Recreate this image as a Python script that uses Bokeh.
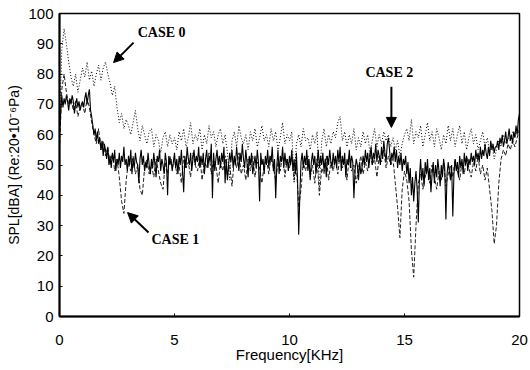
import numpy as np
from bokeh.plotting import figure
from bokeh.models import Range1d, Label, Arrow, NormalHead, FixedTicker
from bokeh.embed import file_html
from bokeh.resources import INLINE

# ---- data ----
x_ticks = [0, 5, 10, 15, 20]
y_ticks = [0, 10, 20, 30, 40, 50, 60, 70, 80, 90, 100]

# CASE 0 (dotted), 0.1 kHz step
case0 = [
    62, 88, 95, 90, 84, 79, 76, 80, 74, 78,
    82, 79, 84, 78, 81, 76, 80, 83, 78, 82,
    84, 80, 77, 73, 76, 69, 64, 67, 62, 65,
    63, 60, 64, 68, 62, 58, 63, 60, 57, 61,
    62, 56, 60, 58, 54, 59, 61, 56, 60, 57,
    59, 55, 61, 58, 62, 56, 59, 64, 57, 60,
    58, 62, 55, 60, 57, 63, 59, 61, 56, 60,
    62, 57, 60, 54, 45, 58, 61, 56, 63, 59,
    57, 60, 55, 61, 58, 62, 56, 59, 63, 58,
    60, 56, 62, 58, 61, 55, 59, 64, 57, 60,
    58, 61, 44, 57, 60, 56, 62, 58, 59, 55,
    60, 57, 61, 42, 58, 62, 56, 60, 57, 61,
    59, 64, 66, 58, 61, 56, 60, 57, 62, 55,
    59, 56, 61, 57, 60, 54, 58, 62, 56, 60,
    57, 61, 58, 60, 56, 59, 55, 58, 53, 57,
    60, 62, 58, 65, 57, 61, 59, 63, 56, 60,
    64, 58, 61, 56, 62, 59, 55, 60, 57, 63,
    58, 62, 56, 60, 63, 57, 61, 55, 59, 62,
    57, 60, 55, 58, 61, 56, 59, 54, 57, 52,
    55, 58, 56, 60, 57, 59, 58, 61, 59, 62,
    60,
]

# CASE 1 (dashed), 0.1 kHz step
case1 = [
    55, 75, 80, 74, 70, 72, 68, 71, 66, 69,
    70, 67, 72, 69, 64, 60, 57, 62, 55, 58,
    53, 56, 50, 54, 48, 52, 46, 38, 34, 45,
    51, 48, 53, 47, 50, 42, 40, 49, 52, 47,
    50, 46, 52, 48, 44, 42, 51, 47, 53, 49,
    52, 47, 50, 44, 53, 49, 51, 46, 54, 50,
    48, 53, 45, 51, 49, 54, 47, 52, 50, 44,
    51, 48, 53, 46, 50, 43, 52, 49, 54, 47,
    50, 45, 52, 48, 53, 46, 51, 49, 44, 50,
    52, 47, 53, 49, 45, 51, 48, 54, 46, 52,
    49, 53, 45, 50, 36, 42, 51, 48, 53, 46,
    50, 44, 52, 40, 49, 47, 53, 45, 51, 48,
    52, 47, 54, 49, 51, 45, 53, 48, 50, 44,
    49, 53, 47, 51, 48, 54, 50, 52, 46, 53,
    51, 55, 49, 53, 50, 52, 44, 36, 26, 42,
    48, 45, 38, 22, 13, 30, 44, 47, 42, 46,
    49, 44, 50, 46, 42, 48, 45, 51, 43, 47,
    50, 46, 52, 48, 45, 51, 47, 53, 49, 46,
    51, 48, 53, 47, 50, 45, 49, 42, 35, 24,
    30, 44, 52, 55, 53, 57, 55, 58, 56, 59,
    62,
]

# CASE 2 (solid), 0.05 kHz step
case2 = [
    60, 67, 73, 69, 72, 70, 73, 71, 68, 72, 70, 73, 71, 67, 70, 72, 69, 71, 68, 70,
    71, 69, 72, 74, 70, 73, 75, 68, 66, 63, 60, 62, 58, 61, 57, 59, 55, 58, 53, 57,
    55, 52, 56, 50, 53, 49, 54, 51, 55, 48, 52, 50, 54, 49, 53, 51, 56, 50, 52, 48,
    53, 50, 55, 47, 52, 49, 54, 51, 50, 44, 52, 55, 50, 53, 48, 51, 49, 54, 50, 47,
    52, 49, 54, 50, 46, 53, 51, 55, 48, 52, 50, 47, 54, 51, 40, 53, 50, 52, 48, 51,
    54, 49, 52, 47, 53, 50, 55, 48, 41, 53, 49, 56, 52, 50, 54, 48, 52, 55, 50, 53,
    51, 56, 49, 53, 50, 54, 47, 52, 55, 49, 53, 51, 57, 39, 54, 48, 52, 55, 50, 53,
    49, 54, 51, 56, 44, 52, 45, 50, 54, 51, 55, 49, 53, 50, 56, 52, 48, 54, 51, 57,
    52, 49, 55, 51, 46, 53, 50, 54, 47, 50, 53, 49, 55, 51, 38, 54, 50, 52, 47, 53,
    50, 55, 49, 53, 51, 56, 48, 52, 39, 50, 55, 47, 53, 51, 56, 49, 54, 50, 52, 48,
    53, 50, 55, 48, 52, 47, 54, 45, 27, 40, 51, 54, 49, 53, 50, 55, 48, 52, 45, 51,
    54, 50, 53, 47, 51, 55, 49, 53, 50, 54, 48, 52, 46, 53, 50, 55, 51, 49, 54, 50,
    53, 49, 55, 51, 56, 48, 53, 50, 54, 46, 52, 50, 55, 49, 53, 51, 39, 48, 52, 50,
    45, 51, 47, 49, 53, 50, 55, 51, 54, 49, 53, 56, 50, 54, 52, 57, 51, 55, 53, 50,
    56, 52, 58, 54, 51, 57, 59, 55, 50, 54, 52, 56, 51, 55, 49, 53, 50, 54, 48, 52,
    50, 53, 47, 51, 44, 49, 40, 46, 38, 44, 48, 42, 31, 46, 52, 45, 49, 43, 51, 47,
    52, 45, 49, 41, 47, 51, 44, 50, 46, 52, 48, 43, 50, 46, 52, 49, 32, 47, 51, 48,
    45, 50, 33, 47, 52, 48, 51, 46, 53, 49, 52, 47, 54, 50, 53, 48, 52, 50, 54, 51,
    53, 50, 55, 52, 54, 51, 56, 52, 55, 53, 57, 54, 52, 56, 53, 58, 55, 57, 54, 56,
    56, 58, 55, 59, 57, 60, 56, 58, 61, 57, 59, 62, 58, 60, 57, 61, 59, 63, 60, 65,
    67,
]

freq0 = np.linspace(0, 20, len(case0))
freq1 = np.linspace(0, 20, len(case1))
freq2 = np.linspace(0, 20, len(case2))

# annotation texts and anchor points (kHz, dB)
labels = [
    ("CASE 0", 3.4, 93.7),
    ("CASE 1", 4.0, 25.5),
    ("CASE 2", 13.3, 80.5),
]
arrows = [
    (3.22, 90.4, 2.35, 83.8),
    (3.87, 27.7, 2.96, 34.3),
    (14.43, 75.8, 14.43, 62.4),
]

p = figure(width=530, height=366, output_backend="svg", toolbar_location=None,
           x_range=Range1d(0, 20), y_range=Range1d(0, 100),
           min_border_left=59, min_border_right=11, min_border_top=13,
           min_border_bottom=50)
p.background_fill_color = "white"
p.border_fill_color = "white"
p.outline_line_color = "black"
p.outline_line_width = 1.5
p.xgrid.visible = False
p.ygrid.visible = False

p.line(freq0, case0, line_color="black", line_width=1, line_dash="1 2")
p.line(freq1, case1, line_color="#222222", line_width=1, line_dash="4 2")
p.line(freq2, case2, line_color="black", line_width=1.1)

for ax in (p.xaxis[0], p.yaxis[0]):
    ax.axis_line_width = 2
    ax.axis_line_color = "black"
    ax.major_tick_in = 3
    ax.major_tick_out = 0
    ax.minor_tick_in = 0
    ax.minor_tick_out = 0
    ax.major_label_text_font = "Liberation Sans"
    ax.major_label_text_font_size = "15px"
    ax.major_label_text_color = "black"
    ax.axis_label_text_font = "Liberation Sans"
    ax.axis_label_text_font_style = "normal"
    ax.axis_label_text_color = "black"

p.xaxis.ticker = FixedTicker(ticks=x_ticks)
p.yaxis.ticker = FixedTicker(ticks=y_ticks)
p.xaxis.major_label_standoff = 18
p.yaxis.major_label_standoff = 6
p.xaxis.axis_label = "Frequency[KHz]"
p.xaxis.axis_label_text_font_size = "15px"
p.xaxis.axis_label_standoff = -2
p.yaxis.axis_label = "SPL[dBA] (Re:20\u202210\u207b\u2076Pa)"
p.yaxis.axis_label_text_font_size = "14px"
p.yaxis.axis_label_standoff = 3

for txt, lx, ly in labels:
    p.add_layout(Label(x=lx, y=ly, text=txt, text_font="Liberation Serif",
                       text_font_style="bold", text_font_size="14px",
                       text_baseline="middle", text_color="black"))

for x0, y0, x1, y1 in arrows:
    p.add_layout(Arrow(x_start=x0, y_start=y0, x_end=x1, y_end=y1,
                       line_width=2, line_color="black",
                       end=NormalHead(size=10, fill_color="black", line_color="black")))

open("out.html", "w").write(file_html(p, INLINE))
